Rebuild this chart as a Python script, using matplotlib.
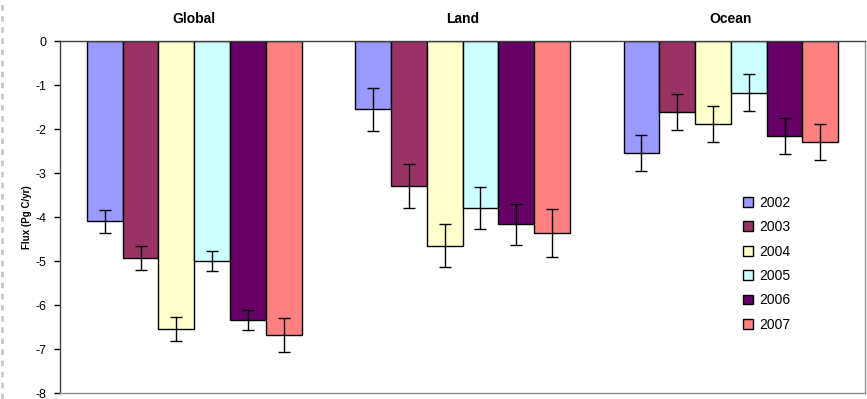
import numpy as np
import matplotlib.pyplot as plt
from matplotlib.lines import Line2D

plt.rcParams['font.family'] = ['Liberation Sans', 'DejaVu Sans']

regions = ['Global', 'Land', 'Ocean']
years = ['2002', '2003', '2004', '2005', '2006', '2007']
colors = ['#9999FF', '#993366', '#FFFFCC', '#CCFFFF', '#660066', '#FF8080']

# flux per year for Global, Land, Ocean
flux = {
    '2002': [-4.10, -1.55, -2.55],
    '2003': [-4.93, -3.30, -1.61],
    '2004': [-6.54, -4.65, -1.88],
    '2005': [-5.00, -3.80, -1.18],
    '2006': [-6.34, -4.17, -2.16],
    '2007': [-6.68, -4.37, -2.29],
}
err = {
    '2002': [0.26, 0.49, 0.41],
    '2003': [0.27, 0.50, 0.41],
    '2004': [0.27, 0.49, 0.41],
    '2005': [0.23, 0.48, 0.42],
    '2006': [0.23, 0.46, 0.40],
    '2007': [0.38, 0.55, 0.41],
}

fig = plt.figure(figsize=(8.67, 3.99), dpi=100)
ax = fig.add_axes([60 / 867, 1 - 393 / 399, 805 / 867, 352 / 399])

x = np.arange(len(regions))
w = 0.8 / len(years)
for i, yr in enumerate(years):
    pos = x - 0.4 + w * (i + 0.5)
    ax.bar(pos, flux[yr], width=w, color=colors[i], edgecolor='black',
           linewidth=1.0, label=yr, zorder=2)
    ax.errorbar(pos, flux[yr], yerr=err[yr], fmt='none', ecolor='black',
                elinewidth=1.0, capsize=4, capthick=1.0, zorder=3)

ax.set_xlim(-0.5, 2.5)
ax.set_ylim(-8, 0)
ax.set_yticks(range(-8, 1))
ax.set_yticklabels([str(v) for v in range(-8, 1)], fontsize=9)
ax.tick_params(axis='y', direction='out', length=4, width=1, pad=6)

ax.xaxis.tick_top()
ax.set_xticks(x)
ax.set_xticklabels(regions, fontsize=10, fontweight='bold')
ax.tick_params(axis='x', length=0, pad=11)

ax.set_ylabel('Flux (Pg C/yr)', fontsize=7, fontweight='bold', labelpad=2)

ax.spines['left'].set_color('#404040')
ax.spines['top'].set_color('#404040')
ax.spines['right'].set_color('#909090')
ax.spines['bottom'].set_color('#909090')
for s in ax.spines.values():
    s.set_linewidth(1.0)

ax.legend(loc='upper left', bbox_to_anchor=(0.842, 0.576), frameon=False,
          fontsize=10, handlelength=0.7, handleheight=0.7, labelspacing=0.75,
          handletextpad=0.45, borderaxespad=0)

# dashed chart border on the left edge
fig.add_artist(Line2D([2 / 867, 2 / 867], [0, 1], transform=fig.transFigure,
                      color='#c8c8c8', linewidth=2, linestyle=(0, (2, 2))))

fig.savefig('out.png', dpi=100)
